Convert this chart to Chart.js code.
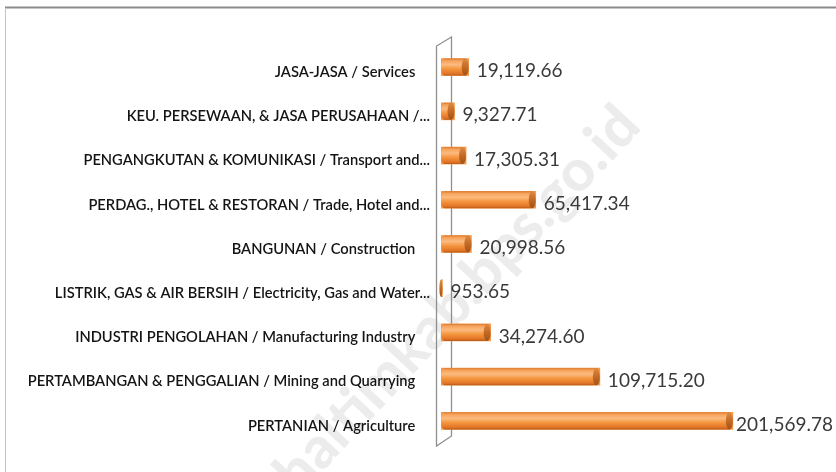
<!DOCTYPE html>
<html>
<head>
<meta charset="utf-8">
<script src="https://cdn.jsdelivr.net/npm/chart.js@4.4.1/dist/chart.umd.min.js"></script>
<style>
  html, body { margin: 0; padding: 0; background: #ffffff; }
  #wrap { width: 836px; height: 472px; }
</style>
</head>
<body>
<div id="wrap"><canvas id="pdrbChart" width="836" height="472"></canvas></div>
<script>
(function () {
  "use strict";

  var sectors = [
    "JASA-JASA / Services",
    "KEU. PERSEWAAN, & JASA PERUSAHAAN /...",
    "PENGANGKUTAN & KOMUNIKASI / Transport and...",
    "PERDAG., HOTEL & RESTORAN / Trade, Hotel and...",
    "BANGUNAN / Construction",
    "LISTRIK, GAS & AIR BERSIH / Electricity, Gas and Water...",
    "INDUSTRI PENGOLAHAN / Manufacturing Industry",
    "PERTAMBANGAN & PENGGALIAN / Mining and Quarrying",
    "PERTANIAN / Agriculture",
  ];
  var values = [19119.66, 9327.71, 17305.31, 65417.34, 20998.56, 953.65, 34274.6, 109715.2, 201569.78];
  var axisMax = 250000;
  var watermark = "haltimkab.bps.go.id";

  var orange = "#F4984A";
  var labelFont = "Lato, 'Open Sans', sans-serif";

  function fmt(v) {
    return v.toLocaleString("en-US", { minimumFractionDigits: 2, maximumFractionDigits: 2 });
  }

  // white page, frame lines and the faint watermark
  var backdrop = {
    id: "backdrop",
    beforeDraw: function (chart) {
      var c = chart.ctx;
      c.save();
      c.fillStyle = "#ffffff";
      c.fillRect(0, 0, chart.width, chart.height);

      c.save();
      c.translate(643, 128);
      c.rotate(-47 * Math.PI / 180);
      c.font = "900 58px " + labelFont;
      c.fillStyle = "rgba(0,0,0,0.075)";
      c.textAlign = "right";
      c.textBaseline = "alphabetic";
      c.fillText(watermark, 0, 0);
      c.restore();

      c.strokeStyle = "#8c8c8c";
      c.lineWidth = 2;
      c.beginPath();
      c.moveTo(5, 7.5);
      c.lineTo(chart.width, 7.5);
      c.stroke();
      c.strokeStyle = "#c4c4c4";
      c.lineWidth = 1;
      c.beginPath();
      c.moveTo(5.5, 8);
      c.lineTo(5.5, chart.height);
      c.stroke();
      c.restore();
    },
  };

  // 3D side wall behind the bars
  var wall = {
    id: "wall",
    beforeDatasetsDraw: function (chart) {
      var a = chart.chartArea;
      var c = chart.ctx;
      var x0 = a.left - 4.5, x1 = a.left + 10.5;
      c.save();
      c.strokeStyle = "#8f8f8f";
      c.lineWidth = 1.3;
      c.beginPath();
      c.moveTo(x1, a.top - 8);
      c.lineTo(x0, a.top + 1);
      c.lineTo(x0, a.bottom + 3);
      c.lineTo(x1, a.bottom - 7);
      c.closePath();
      c.stroke();
      c.restore();
    },
  };

  // cylinder shading, end caps and value labels
  var cylinders = {
    id: "cylinders",
    afterDatasetsDraw: function (chart) {
      var c = chart.ctx;
      var meta = chart.getDatasetMeta(0);
      c.save();
      meta.data.forEach(function (bar, i) {
        var h = bar.height;
        var top = bar.y - h / 2;
        var left = bar.base;
        var right = bar.x;
        var rx = Math.min(3.5, Math.max(1.5, (right - left) / 2));

        var g = c.createLinearGradient(0, top, 0, top + h);
        g.addColorStop(0, "#D9782E");
        g.addColorStop(0.12, "#F7A25A");
        g.addColorStop(0.35, "#FBBB80");
        g.addColorStop(0.6, "#F5963F");
        g.addColorStop(0.88, "#E27526");
        g.addColorStop(1, "#B45B1A");
        c.fillStyle = g;
        c.beginPath();
        c.ellipse(left + rx, bar.y, rx, h / 2, 0, Math.PI / 2, Math.PI * 1.5);
        c.lineTo(right - rx, top);
        c.ellipse(right - rx, bar.y, rx, h / 2, 0, -Math.PI / 2, Math.PI / 2);
        c.closePath();
        c.fill();

        var cg = c.createLinearGradient(0, top, 0, top + h);
        cg.addColorStop(0, "#D98A45");
        cg.addColorStop(0.5, "#C56A25");
        cg.addColorStop(1, "#9E5218");
        c.fillStyle = cg;
        c.beginPath();
        c.ellipse(right - rx, bar.y, rx, h / 2, 0, 0, Math.PI * 2);
        c.fill();

        var text = fmt(values[i]);
        c.font = "19px " + labelFont;
        c.fillStyle = "#3a3a3a";
        c.textAlign = "left";
        c.textBaseline = "middle";
        var w = c.measureText(text).width;
        var tx = Math.min(right + 8, chart.width - 3 - w);
        c.fillText(text, tx, bar.y + 4);
      });
      c.restore();
    },
  };

  new Chart(document.getElementById("pdrbChart").getContext("2d"), {
    type: "bar",
    data: {
      labels: sectors,
      datasets: [
        {
          data: values,
          backgroundColor: orange,
          borderWidth: 0,
          barThickness: 17,
        },
      ],
    },
    options: {
      indexAxis: "y",
      responsive: false,
      animation: false,
      layout: {
        padding: { top: 45, right: 33, bottom: 29, left: 0 },
      },
      scales: {
        x: {
          display: false,
          min: 0,
          max: axisMax,
        },
        y: {
          grid: { display: false, drawTicks: false },
          border: { display: false },
          afterFit: function (scale) {
            scale.width = 441;
          },
          ticks: {
            padding: 11,
            labelOffset: 5,
            color: "#141414",
            font: { family: labelFont, size: 14.7, weight: "600" },
            callback: function (value) {
              var s = this.getLabelForValue(value);
              return /\.\.\.$/.test(s) ? s : s + "\u2002\u2002";
            },
          },
        },
      },
      plugins: {
        legend: { display: false },
        tooltip: { enabled: false },
      },
    },
    plugins: [backdrop, wall, cylinders],
  });
})();
</script>
</body>
</html>
